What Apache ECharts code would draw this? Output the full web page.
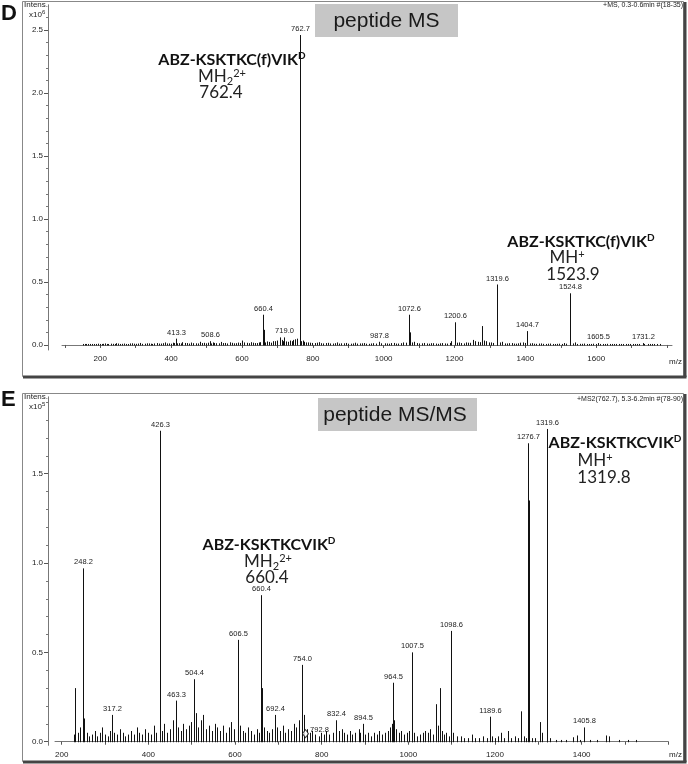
<!DOCTYPE html>
<html><head><meta charset="utf-8">
<script src="https://cdn.jsdelivr.net/npm/echarts@6/dist/echarts.min.js"></script>
<style>html,body{margin:0;padding:0;background:#fff}#c{width:688px;height:764px}</style>
</head><body><div id="c"></div>
<script>
// ---------- Panel D: peptide MS (intensity x10^6) ----------
const msPeakMz   = [413.3, 508.6, 660.4, 661.4, 719.0, 762.7, 763.2, 987.8, 1072.6, 1073.6, 1200.6, 1277.6, 1319.6, 1320.6, 1404.7, 1524.8, 1525.8, 1605.5, 1731.2];
const msPeakInt  = [0.05, 0.03, 0.24, 0.12, 0.06, 2.46, 0.45, 0.025, 0.24, 0.10, 0.18, 0.15, 0.48, 0.28, 0.11, 0.41, 0.20, 0.015, 0.015];
const msPeakText = ['413.3','508.6','660.4','','719.0','762.7','','987.8','1072.6','','1200.6','','1319.6','','1404.7','1524.8','','1605.5','1731.2'];
const msNoiseMz  = [152,160,171,183,195,204,214,222,236,245,257,268,279,291,302,313,325,338,347,359,371,384,395,404,421,432,446,457,469,481,493,517,528,541,553,565,577,589,601,614,626,638,647,671,683,694,706,712,731,741,749,771,780,792,805,818,829,843,856,868,881,893,907,919,932,945,958,971,1003,1016,1029,1041,1055,1087,1101,1114,1127,1140,1153,1166,1179,1191,1213,1226,1239,1252,1265,1290,1303,1335,1348,1361,1373,1386,1394,1418,1431,1444,1457,1470,1483,1496,1509,1540,1553,1566,1579,1592,1618,1631,1644,1657,1670,1683,1696,1709,1722,1745,1758,1771];
const msNoiseInt = [0.006,0.004,0.008,0.005,0.01,0.007,0.012,0.006,0.009,0.014,0.008,0.011,0.007,0.013,0.009,0.016,0.01,0.012,0.008,0.015,0.011,0.02,0.012,0.018,0.014,0.022,0.015,0.019,0.013,0.025,0.017,0.02,0.014,0.024,0.016,0.021,0.013,0.019,0.035,0.017,0.022,0.015,0.02,0.028,0.018,0.03,0.06,0.04,0.025,0.03,0.045,0.035,0.02,0.018,0.015,0.022,0.012,0.017,0.011,0.02,0.013,0.016,0.01,0.018,0.012,0.015,0.009,0.014,0.013,0.01,0.016,0.011,0.02,0.025,0.012,0.016,0.01,0.014,0.009,0.015,0.011,0.03,0.02,0.012,0.018,0.04,0.025,0.03,0.02,0.025,0.012,0.015,0.01,0.018,0.02,0.014,0.009,0.012,0.008,0.011,0.007,0.01,0.015,0.02,0.009,0.011,0.007,0.01,0.006,0.009,0.005,0.008,0.006,0.007,0.005,0.006,0.004,0.005,0.004,0.003];
const msGrassMz  = [156,166,177,189,199,209,218,229,241,251,262,274,285,296,307,319,331,342,353,365,377,389,399,409,416,427,438,451,462,475,487,499,504,512,522,535,547,559,571,583,595,607,620,632,643,652,666,677,689,700,716,725,736,745,755,767,776,786,799,811,824,836,849,862,874,887,900,913,926,939,951,965,979,993,1010,1022,1035,1048,1062,1080,1094,1108,1121,1134,1147,1160,1173,1186,1207,1219,1232,1245,1258,1271,1284,1297,1310,1329,1342,1355,1367,1380,1399,1412,1425,1438,1451,1464,1477,1490,1503,1516,1534,1547,1560,1573,1586,1599,1612,1625,1638,1651,1664,1677,1690,1703,1716,1735,1751,1764,1780];
const msGrassInt = [0.004,0.006,0.005,0.007,0.006,0.009,0.008,0.01,0.007,0.011,0.009,0.008,0.012,0.01,0.011,0.009,0.013,0.01,0.012,0.011,0.014,0.012,0.01,0.015,0.013,0.012,0.016,0.011,0.014,0.012,0.015,0.013,0.018,0.012,0.016,0.013,0.015,0.012,0.017,0.014,0.016,0.02,0.014,0.018,0.015,0.022,0.02,0.024,0.03,0.035,0.03,0.028,0.035,0.04,0.05,0.03,0.025,0.02,0.016,0.018,0.014,0.015,0.012,0.014,0.011,0.013,0.01,0.012,0.011,0.013,0.01,0.012,0.011,0.013,0.012,0.015,0.011,0.014,0.018,0.02,0.015,0.013,0.012,0.014,0.011,0.013,0.012,0.016,0.018,0.015,0.02,0.017,0.03,0.022,0.035,0.02,0.016,0.02,0.012,0.014,0.011,0.013,0.016,0.012,0.01,0.011,0.009,0.01,0.008,0.009,0.008,0.01,0.012,0.008,0.009,0.007,0.008,0.007,0.006,0.007,0.006,0.006,0.005,0.006,0.005,0.005,0.005,0.004,0.004,0.004,0.003,0.003];
const msXTicks   = [100,200,300,400,500,600,700,800,900,1000,1100,1200,1300,1400,1500,1600,1700,1800];
const msXLabels  = [200,400,600,800,1000,1200,1400,1600];
const msYLabels  = [0,0.5,1.0,1.5,2.0,2.5];
const msYMinor   = [0.1,0.2,0.3,0.4,0.6,0.7,0.8,0.9,1.1,1.2,1.3,1.4,1.6,1.7,1.8,1.9,2.1,2.2,2.3,2.4,2.6];

// ---------- Panel E: peptide MS/MS (intensity x10^5) ----------
const ms2PeakMz   = [230.0, 248.2, 252.0, 317.2, 426.3, 463.3, 504.4, 606.5, 607.5, 660.4, 661.4, 692.4, 754.0, 792.8, 832.4, 894.5, 964.5, 1007.5, 1008.5, 1098.6, 1099.6, 1189.6, 1276.7, 1277.7, 1319.6, 1320.6, 1405.8];
const ms2PeakInt  = [0.30, 0.97, 0.13, 0.15, 1.74, 0.23, 0.35, 0.57, 0.20, 0.82, 0.30, 0.15, 0.43, 0.03, 0.12, 0.10, 0.33, 0.50, 0.25, 0.62, 0.25, 0.14, 1.67, 1.35, 1.75, 1.00, 0.08];
const ms2PeakText = ['','248.2','','317.2','426.3','463.3','504.4','606.5','','660.4','','692.4','754.0','792.8','832.4','894.5','964.5','1007.5','','1098.6','','1189.6','1276.7','','1319.6','','1405.8'];
const ms2NoiseMz  = [228,238,243,258,263,270,276,282,288,294,300,306,312,321,327,334,341,347,353,360,366,373,379,386,392,399,405,412,418,431,437,444,450,457,468,475,481,487,493,498,509,515,521,527,533,540,546,553,559,566,572,579,585,591,598,612,618,624,631,637,643,650,655,667,673,679,686,698,704,710,716,722,729,735,741,747,759,766,772,778,785,798,805,811,818,825,839,846,852,858,865,871,878,885,889,901,907,914,920,927,933,940,946,952,958,962,968,972,978,984,990,996,1002,1014,1020,1026,1033,1039,1045,1050,1056,1063,1068,1074,1078,1082,1088,1093,1104,1112,1121,1128,1137,1146,1155,1164,1172,1181,1193,1200,1207,1213,1220,1230,1238,1246,1252,1260,1266,1272,1285,1292,1304,1308,1326,1340,1352,1365,1379,1389,1396,1420,1435,1456,1462,1486,1507,1525];
const ms2NoiseInt = [0.04,0.05,0.08,0.05,0.03,0.04,0.06,0.03,0.05,0.08,0.04,0.03,0.06,0.05,0.04,0.07,0.05,0.03,0.04,0.06,0.04,0.08,0.05,0.04,0.07,0.05,0.04,0.09,0.05,0.06,0.1,0.05,0.07,0.12,0.08,0.06,0.1,0.07,0.09,0.11,0.16,0.08,0.12,0.15,0.07,0.09,0.06,0.1,0.08,0.06,0.09,0.05,0.08,0.11,0.07,0.09,0.06,0.05,0.08,0.06,0.04,0.07,0.05,0.08,0.06,0.05,0.07,0.08,0.06,0.09,0.05,0.07,0.06,0.1,0.08,0.12,0.15,0.07,0.05,0.06,0.04,0.05,0.04,0.06,0.04,0.05,0.06,0.07,0.05,0.04,0.06,0.04,0.05,0.07,0.05,0.04,0.05,0.03,0.05,0.04,0.06,0.04,0.05,0.06,0.08,0.1,0.12,0.07,0.05,0.06,0.04,0.05,0.06,0.05,0.03,0.04,0.05,0.06,0.05,0.07,0.04,0.21,0.09,0.30,0.06,0.04,0.05,0.03,0.05,0.03,0.03,0.02,0.02,0.04,0.02,0.02,0.03,0.02,0.03,0.02,0.03,0.05,0.02,0.06,0.02,0.03,0.02,0.17,0.03,0.02,0.02,0.02,0.11,0.05,0.02,0.01,0.01,0.01,0.025,0.035,0.01,0.01,0.01,0.035,0.03,0.01,0.01,0.01];
const ms2Precursor = 762.7;
const ms2XTicks   = [200,300,400,500,600,700,800,900,1000,1100,1200,1300,1400,1500,1600];
const ms2XLabels  = [200,400,600,800,1000,1200,1400];
const ms2YLabels  = [0,0.5,1.0,1.5];
const ms2YMinor   = [0.1,0.2,0.3,0.4,0.6,0.7,0.8,0.9,1.1,1.2,1.3,1.4,1.6,1.7,1.8,1.9];

// ---------- build ----------
function pairs(xs, ys){ return xs.map((x,i)=>[x, ys[i]]); }
const FONT = '"Liberation Sans", Arial, sans-serif';
const ANN  = 'Lato, "Open Sans", sans-serif';

function sticks(xi, data, texts){
  return {
    type:'custom', xAxisIndex:xi, yAxisIndex:xi*2, data:data, clip:true, silent:true,
    renderItem:function(params, api){
      const x = api.value(0), y = api.value(1);
      const p0 = api.coord([x,0]), p1 = api.coord([x,y]);
      const px = Math.round(p0[0]) + 0.5;
      const ch = [{type:'line', shape:{x1:px, y1:p0[1]+0.5, x2:px, y2:Math.min(p1[1], p0[1]-1)}, style:{stroke:'#111', lineWidth:1}}];
      const t = texts ? texts[params.dataIndex] : '';
      if (t) ch.push({type:'text', style:{text:t, x:px, y:p1[1]-2, align:'center', verticalAlign:'bottom', font:'7.5px '+FONT, fill:'#222'}});
      return {type:'group', children:ch};
    }
  };
}

function xAxis(grid, min, max, ticks, labels){
  return {type:'value', gridIndex:grid, min:min, max:max,
    axisLine:{show:true, lineStyle:{color:'#777', width:1}},
    axisTick:{show:true, customValues:ticks, length:3, lineStyle:{color:'#555'}},
    axisLabel:{show:true, customValues:labels, fontSize:8, fontFamily:FONT, color:'#222', margin:5, formatter:v=>String(v)},
    splitLine:{show:false}};
}
function yAxes(grid, min, max, offset, labels, minor){
  return [
    {type:'value', gridIndex:grid, position:'left', min:min, max:max, offset:offset,
     axisLine:{show:true, onZero:false, lineStyle:{color:'#777'}},
     axisTick:{show:true, customValues:labels, length:4, lineStyle:{color:'#555'}},
     axisLabel:{show:true, customValues:labels, fontSize:8, fontFamily:FONT, color:'#222', margin:5, formatter:v=>v.toFixed(1)},
     splitLine:{show:false}},
    {type:'value', gridIndex:grid, position:'left', min:min, max:max, offset:offset,
     axisLine:{show:false}, axisLabel:{show:false}, splitLine:{show:false},
     axisTick:{show:true, customValues:minor, length:2, lineStyle:{color:'#777'}}}
  ];
}

function frame(top, bottom){
  return [
    {type:'rect', shape:{x:22.5, y:top+0.5, width:661, height:bottom-top}, style:{fill:'none', stroke:'#888', lineWidth:1}, z:10},
    {type:'line', shape:{x1:685, y1:top+1, x2:685, y2:bottom+1}, style:{stroke:'#444', lineWidth:3}, z:10},
    {type:'line', shape:{x1:23, y1:bottom+1, x2:686.5, y2:bottom+1}, style:{stroke:'#444', lineWidth:3}, z:10}
  ];
}
function txt(x, y, text, rich, align){
  return {type:'text', x:x, y:y, z:20, style:{text:text, rich:rich, align:align||'center', verticalAlign:'middle', fill:'#111'}};
}
const annRich = {
  b:{fontFamily:ANN, fontWeight:'bold', fontSize:16, fill:'#111'},
  bs:{fontFamily:ANN, fontWeight:'bold', fontSize:10, fill:'#111', padding:[0,0,8,0]},
  r:{fontFamily:ANN, fontSize:17, fill:'#222'},
  sub:{fontFamily:ANN, fontSize:11, fill:'#222', padding:[8,0,0,0]},
  sup:{fontFamily:ANN, fontSize:11, fill:'#222', padding:[0,0,8,0]}
};
const smallRich = {
  s:{fontFamily:FONT, fontSize:8, fill:'#222'},
  ss:{fontFamily:FONT, fontSize:6, fill:'#222', padding:[0,0,5,0]}
};

const graphics = [].concat(
  frame(1, 376), frame(393, 761),
  [
    {type:'text', x:1, y:14, z:20, style:{text:'D', font:'bold 22px '+FONT, fill:'#111', verticalAlign:'middle'}},
    {type:'text', x:1, y:400, z:20, style:{text:'E', font:'bold 22px '+FONT, fill:'#111', verticalAlign:'middle'}},
    txt(24, 5, '{s|Intens.}', smallRich, 'left'),
    txt(29, 15, '{s|x10}{ss|6}', smallRich, 'left'),
    txt(24, 397, '{s|Intens.}', smallRich, 'left'),
    txt(29, 407, '{s|x10}{ss|5}', smallRich, 'left'),
    {type:'text', x:683, y:5, z:20, style:{text:'+MS, 0.3-0.6min #(18-35)', font:'7px '+FONT, fill:'#222', align:'right', verticalAlign:'middle'}},
    {type:'text', x:683, y:399, z:20, style:{text:'+MS2(762.7), 5.3-6.2min #(78-90)', font:'7px '+FONT, fill:'#222', align:'right', verticalAlign:'middle'}},
    {type:'text', x:682, y:362, z:20, style:{text:'m/z', font:'8px '+FONT, fill:'#222', align:'right', verticalAlign:'middle'}},
    {type:'text', x:682, y:755, z:20, style:{text:'m/z', font:'8px '+FONT, fill:'#222', align:'right', verticalAlign:'middle'}},
    {type:'rect', shape:{x:315, y:4, width:143, height:33}, style:{fill:'#c6c6c6'}, z:5},
    {type:'text', x:386.5, y:21, z:20, style:{text:'peptide MS', font:'21px '+FONT, fill:'#1a1a1a', align:'center', verticalAlign:'middle'}},
    {type:'rect', shape:{x:318, y:398, width:159, height:33}, style:{fill:'#c6c6c6'}, z:5},
    {type:'text', x:395, y:415, z:20, style:{text:'peptide MS/MS', font:'21px '+FONT, fill:'#1a1a1a', align:'center', verticalAlign:'middle'}},
    // annotations
    txt(232, 60, '{b|ABZ-KSKTKC(f)VIK}{bs|D}', annRich),
    txt(222, 77, '{r|MH}{sub|2}{sup|2+}', annRich),
    txt(221, 93, '{r|762.4}', annRich),
    txt(581, 242, '{b|ABZ-KSKTKC(f)VIK}{bs|D}', annRich),
    txt(567, 258, '{r|MH}{sup|+}', annRich),
    txt(573, 275, '{r|1523.9}', annRich),
    txt(269, 545, '{b|ABZ-KSKTKCVIK}{bs|D}', annRich),
    txt(268, 562, '{r|MH}{sub|2}{sup|2+}', annRich),
    txt(267, 578, '{r|660.4}', annRich),
    txt(615, 443, '{b|ABZ-KSKTKCVIK}{bs|D}', annRich),
    txt(595, 461, '{r|MH}{sup|+}', annRich),
    txt(604, 478, '{r|1319.8}', annRich)
  ]
);

const chart = echarts.init(document.getElementById('c'), null, {renderer:'canvas'});
chart.setOption({
  animation:false,
  backgroundColor:'#fff',
  grid:[
    {left:62, right:16, top:4.8, bottom:414},
    {left:55, right:19.7, top:396.8, bottom:18.7}
  ],
  xAxis:[ xAxis(0, 92, 1814, msXTicks, msXLabels), xAxis(1, 184.5, 1600, ms2XTicks, ms2XLabels) ],
  yAxis:[].concat(yAxes(0, -0.04, 2.7, 14, msYLabels, msYMinor), yAxes(1, -0.02, 1.93, 7, ms2YLabels, ms2YMinor)),
  series:[
    sticks(0, pairs(msGrassMz, msGrassInt), null),
    sticks(0, pairs(msNoiseMz, msNoiseInt), null),
    sticks(0, pairs(msPeakMz, msPeakInt), msPeakText),
    sticks(1, pairs(ms2NoiseMz, ms2NoiseInt), null),
    sticks(1, pairs(ms2PeakMz, ms2PeakInt), ms2PeakText),
    {type:'scatter', xAxisIndex:1, yAxisIndex:2, data:[[ms2Precursor, 0.045]], symbol:'diamond', symbolSize:[6,8],
     itemStyle:{color:'#fff', borderColor:'#111', borderWidth:1}, silent:true, z:5}
  ],
  graphic:graphics
});
</script>
</body></html>
